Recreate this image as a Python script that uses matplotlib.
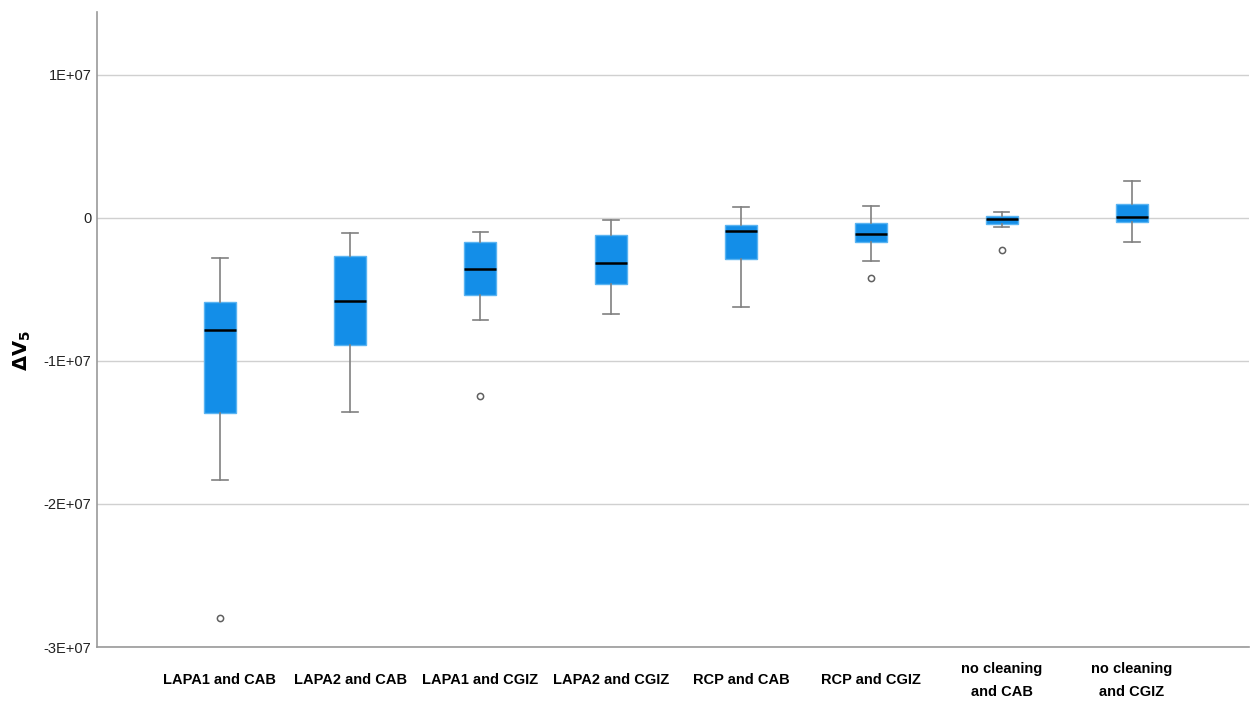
import matplotlib
matplotlib.use('Agg')
import matplotlib.pyplot as plt

# box statistics (units: raw ΔV5)
groups = ['LAPA1 and CAB', 'LAPA2 and CAB', 'LAPA1 and CGIZ', 'LAPA2 and CGIZ',
          'RCP and CAB', 'RCP and CGIZ', 'no cleaning\nand CAB', 'no cleaning\nand CGIZ']
whis_lo = [-1.832e7, -1.359e7, -0.713e7, -0.674e7, -0.622e7, -0.299e7, -0.063e7, -0.166e7]
q1 = [-1.366e7, -0.890e7, -0.538e7, -0.462e7, -0.289e7, -0.166e7, -0.044e7, -0.026e7]
med = [-0.783e7, -0.580e7, -0.357e7, -0.317e7, -0.089e7, -0.110e7, -0.005e7, 0.009e7]
q3 = [-0.585e7, -0.264e7, -0.166e7, -0.121e7, -0.049e7, -0.033e7, 0.016e7, 0.098e7]
whis_hi = [-0.283e7, -0.105e7, -0.098e7, -0.014e7, 0.079e7, 0.084e7, 0.044e7, 0.256e7]
outliers = [[-2.797e7], [], [-1.245e7], [], [], [-0.417e7], [-0.222e7], []]

yticks = [-3e7, -2e7, -1e7, 0, 1e7]
ytick_labels = ['-3E+07', '-2E+07', '-1E+07', '0', '1E+07']

stats = []
for i in range(len(groups)):
    stats.append(dict(whislo=whis_lo[i], q1=q1[i], med=med[i], q3=q3[i],
                      whishi=whis_hi[i], fliers=outliers[i], label=groups[i]))

fig = plt.figure(figsize=(12.51, 7.01), dpi=100)
ax = fig.add_axes([0.0775, 0.077, 0.921, 0.906])

gray = '#808080'
ax.bxp(stats, positions=range(len(groups)), widths=0.245, patch_artist=True,
       boxprops=dict(facecolor='#138ee8', edgecolor='#5ab4f2', linewidth=1),
       medianprops=dict(color='black', linewidth=1.8),
       whiskerprops=dict(color=gray, linewidth=1.2),
       capprops=dict(color=gray, linewidth=1.2),
       capwidths=0.12,
       flierprops=dict(marker='o', markerfacecolor='white', markeredgecolor='#606060',
                       markersize=4.5, markeredgewidth=1.1),
       zorder=3)

ax.set_xlim(-0.943, 7.9)
ax.set_ylim(-3e7, 1.44e7)
ax.set_yticks(yticks)
ax.set_yticklabels(ytick_labels, fontsize=10.5, family='Liberation Sans', color='#222222')
ax.set_xticks(range(len(groups)))
ax.set_xticklabels(groups, fontsize=10.5, fontweight='bold', family='Liberation Sans',
                   va='center', linespacing=1.8)
ax.tick_params(axis='x', length=0, pad=24)
ax.tick_params(axis='y', length=0, pad=4)

ax.yaxis.grid(True, color='#d0d0d0', linewidth=1)
ax.set_axisbelow(True)
for s in ['top', 'right']:
    ax.spines[s].set_visible(False)
for s in ['left', 'bottom']:
    ax.spines[s].set_color('#999999')
    ax.spines[s].set_linewidth(1.2)

fig.text(0.018, 0.5, r'$\mathbf{\Delta V_5}$', rotation=90, fontsize=14,
         va='center', ha='center')

fig.savefig('out.png', dpi=100)
